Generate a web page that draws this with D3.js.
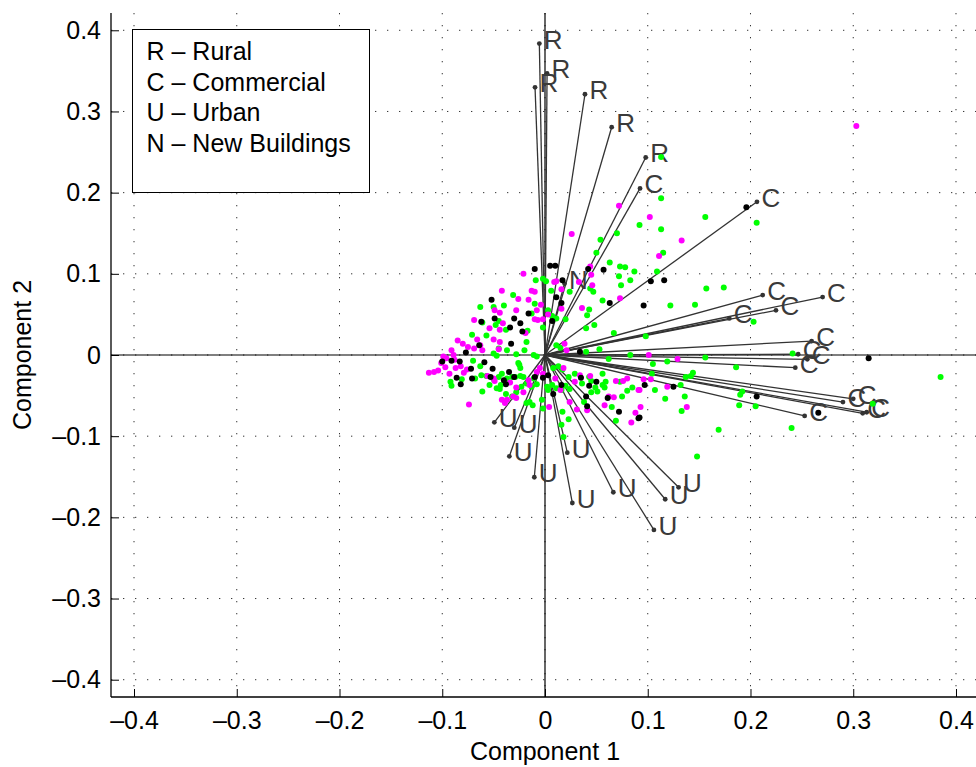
<!DOCTYPE html>
<html><head><meta charset="utf-8">
<script src="https://cdn.jsdelivr.net/npm/d3@7"></script>
<style>
html,body{margin:0;padding:0;background:#fff;}
svg{display:block;font-family:"Liberation Sans",Arial,Helvetica,sans-serif;}
</style></head>
<body>
<svg id="chart" width="976" height="767"></svg>
<script>
// ---------- data ----------
const xTicks = [-0.4,-0.3,-0.2,-0.1,0,0.1,0.2,0.3,0.4];
const yTicks = [-0.4,-0.3,-0.2,-0.1,0,0.1,0.2,0.3,0.4];
const tickLabels = ["\u20130.4","\u20130.3","\u20130.2","\u20130.1","0","0.1","0.2","0.3","0.4"];
const legendLines = ["R \u2013 Rural","C \u2013 Commercial","U \u2013 Urban","N \u2013 New Buildings"];

const vecLabels = ["R","R","R","R","R","R",
  "C","C","C","C","C","C","C","C","C","C","C","C","C","C","C",
  "N",
  "U","U","U","U","U","U","U","U","U","U"];
const vecX = [-0.0055,0.002,-0.0097,0.0389,0.0649,0.098,
  0.0925,0.2063,0.2119,0.2702,0.2248,0.1794,0.2595,0.2464,0.2553,0.2436,0.290,0.300,0.3092,0.3131,0.2527,
  0.019,
  -0.0493,-0.0299,-0.0347,-0.0104,0.0217,0.0266,0.0665,0.117,0.106,0.130];
const vecY = [0.3836,0.347,0.3298,0.3212,0.2806,0.2433,
  0.2052,0.1887,0.0738,0.0714,0.055,0.0451,0.0172,0.0009,-0.0053,-0.0156,-0.058,-0.054,-0.0718,-0.0705,-0.0751,
  0.088,
  -0.0829,-0.0895,-0.1248,-0.1506,-0.1203,-0.1823,-0.1691,-0.1777,-0.2155,-0.163];

const greenPts = [
 [0.113,0.244],[0.113,0.193],[0.156,0.170],[0.206,0.163],[0.092,0.160],[0.113,0.155],[0.115,0.126],[0.109,0.103],
 [0.157,0.082],[0.174,0.083],[0.122,0.061],[0.146,0.062],[0.203,0.041],[0.098,0.023],[0.241,0.002],[0.105,-0.011],
 [0.119,-0.008],[0.156,-0.003],[0.186,-0.015],[0.104,-0.023],[0.137,-0.027],[0.142,-0.026],[0.144,-0.022],[0.132,-0.037],
 [0.107,-0.043],[0.136,-0.051],[0.117,-0.054],[0.192,-0.045],[0.190,-0.049],[0.189,-0.062],[0.205,-0.063],[0.133,-0.069],
 [0.169,-0.092],[0.240,-0.090],[0.319,-0.060],[0.385,-0.027],
 [0.070,0.150],[0.054,0.142],[0.050,0.126],[0.063,0.114],[0.073,0.109],[0.078,0.108],[0.087,0.103],[0.072,0.097],
 [0.083,0.092],[0.074,0.086],[0.044,0.082],[0.047,0.078],[0.056,0.067],[0.043,0.056],[0.041,0.049],[0.040,0.033],
 [0.048,0.037],[0.067,0.027],[0.053,0.007],[0.040,0.004],[0.083,0.000],[0.024,0.078],
 [0.062,-0.005],[0.029,-0.023],[0.056,-0.023],[0.043,-0.027],[0.045,-0.032],[0.036,-0.035],[0.059,-0.033],[0.049,-0.040],
 [0.051,-0.045],[0.045,-0.046],[0.058,-0.040],[0.056,-0.037],[0.073,-0.033],[0.085,-0.040],[0.080,-0.044],[0.075,-0.051],
 [0.038,-0.058],[0.065,-0.064],[0.069,-0.081],[0.148,-0.125],
 [-0.009,0.092],[-0.002,0.094],[0.001,0.091],[-0.031,0.074],[-0.040,0.061],[-0.050,0.059],[-0.063,0.059],[-0.010,0.063],
 [-0.013,0.051],[-0.061,0.040],[-0.045,0.042],[-0.038,0.031],[-0.048,0.037],[-0.017,0.030],[-0.002,0.034],[-0.071,0.025],
 [-0.057,0.024],[-0.018,0.016],[-0.020,0.006],[-0.028,0.001],[-0.026,-0.010],[-0.024,-0.016],[-0.045,0.008],[-0.050,0.002],
 [-0.037,0.006],[-0.011,0.000],[-0.008,-0.002],[-0.070,-0.007],[-0.063,-0.014],[-0.091,-0.038],[-0.092,-0.033],[-0.081,-0.030],
 [-0.068,-0.029],[-0.062,-0.025],[-0.057,-0.026],[-0.050,-0.030],[-0.045,-0.027],[-0.042,-0.023],[-0.037,-0.029],[-0.032,-0.027],
 [-0.029,-0.027],[-0.024,-0.026],[-0.021,-0.027],[-0.061,-0.045],[-0.054,-0.037],[-0.047,-0.041],[-0.043,-0.037],[-0.038,-0.048],
 [-0.044,-0.042],[-0.028,-0.046],[-0.023,-0.039],[-0.018,-0.035],[-0.013,-0.039],[-0.008,-0.036],[-0.011,-0.029],[-0.018,-0.059],
 [-0.015,-0.058],[-0.012,-0.062],[-0.003,-0.055],[-0.002,-0.066],[0.002,-0.039],[0.003,-0.043],[0.007,-0.037],[0.011,-0.041],
 [0.016,-0.043],[0.020,-0.038],[0.024,-0.042],[0.008,-0.016],[0.013,-0.014],[0.017,-0.018],[0.023,-0.027],[0.017,-0.070],
 [0.023,-0.079],[0.016,-0.086],[0.018,-0.101],[0.006,0.079],[0.020,0.044],[0.007,0.048],[0.011,0.045],[0.011,0.012],
 [0.015,0.009],[0.003,0.055],[-0.032,-0.051],[-0.047,-0.001],[-0.025,-0.012]
];
const magentaPts = [
 [0.303,0.282],[0.102,0.170],[0.133,0.141],[0.111,0.122],[0.101,0.000],[0.129,-0.005],[0.096,-0.030],[0.103,-0.030],
 [0.119,-0.039],[0.092,-0.043],[0.138,-0.064],[0.093,-0.064],[0.072,0.184],[0.026,0.149],[0.044,0.109],[0.045,0.099],
 [0.046,0.086],[0.033,0.090],[0.073,0.070],[0.036,0.058],[0.034,-0.025],[0.044,-0.026],[0.029,-0.033],[0.069,-0.032],
 [0.076,-0.032],[0.080,-0.029],[0.091,-0.043],[0.062,-0.051],[0.067,-0.052],[0.058,-0.062],[0.031,-0.067],[0.041,-0.068],
 [0.088,-0.071],[0.084,-0.083],
 [-0.021,0.100],[-0.042,0.079],[-0.013,0.079],[-0.010,0.078],[-0.026,0.069],[-0.016,0.068],[-0.049,0.055],[-0.044,0.052],
 [-0.028,0.055],[-0.008,0.055],[-0.069,0.043],[-0.054,0.033],[-0.044,0.031],[-0.041,0.039],[-0.010,0.044],[-0.007,0.043],
 [-0.002,0.044],[-0.019,0.027],[-0.085,0.018],[-0.080,0.014],[-0.075,0.010],[-0.066,0.019],[-0.063,0.012],[-0.069,0.008],
 [-0.061,0.006],[-0.050,0.019],[-0.045,0.007],[-0.044,0.016],[-0.091,0.006],[-0.089,0.000],[-0.099,-0.002],[-0.096,-0.004],
 [-0.088,-0.006],[-0.101,-0.010],[-0.097,-0.015],[-0.087,-0.016],[-0.082,-0.014],[-0.113,-0.022],[-0.108,-0.021],[-0.104,-0.019],
 [-0.093,-0.023],[-0.079,-0.022],[-0.076,-0.018],[-0.074,-0.061],[-0.056,-0.026],[-0.050,-0.029],[-0.049,-0.032],[-0.034,-0.034],
 [-0.028,-0.040],[-0.031,-0.051],[-0.028,-0.053],[-0.021,-0.046],[-0.016,-0.031],[-0.015,-0.037],[-0.042,-0.055],[-0.039,-0.059],
 [-0.037,-0.055],[-0.008,-0.021],[-0.005,-0.016],[-0.002,-0.023],[0.004,-0.064],[0.010,-0.029],[0.015,-0.043],[0.018,-0.016],
 [0.024,-0.058],[0.011,0.091],[0.016,0.081],[-0.004,0.062],[0.009,0.090],[0.016,0.057],[0.019,0.014],[0.021,0.006],
 [0.003,0.050]
];
const blackPts = [
 [0.196,0.182],[0.103,0.091],[0.116,0.092],[0.096,0.061],[0.315,-0.004],[0.097,-0.037],[0.125,-0.039],[0.206,-0.051],
 [0.266,-0.071],[0.092,-0.077],[0.042,0.106],[0.057,0.105],[0.063,0.064],[0.034,0.004],[0.035,-0.028],[0.043,-0.038],
 [0.050,-0.033],[0.040,-0.051],[0.041,-0.063],[0.061,-0.053],[0.072,-0.070],[0.091,-0.078],[-0.010,0.106],[0.005,0.110],
 [0.010,0.110],[0.017,0.092],[-0.052,0.068],[-0.049,0.045],[-0.062,0.041],[-0.064,0.012],[-0.077,0.003],[-0.030,0.045],
 [-0.034,0.034],[-0.024,0.039],[-0.016,0.051],[-0.022,0.029],[-0.033,0.014],[-0.059,-0.009],[-0.083,-0.008],[-0.091,-0.007],
 [-0.100,-0.008],[-0.086,-0.028],[-0.082,-0.036],[-0.071,-0.029],[-0.072,-0.017],[-0.051,-0.017],[-0.053,-0.027],[-0.035,-0.021],
 [-0.040,-0.031],[-0.038,-0.036],[-0.030,-0.027],[-0.010,-0.027],[-0.002,-0.028],[0.008,-0.048],[0.003,-0.025],[0.016,-0.037],
 [0.011,0.071],[0.016,0.064],[0.007,0.042]
];

// ---------- drawing ----------
const svg = d3.select("#chart");
const L = 111, R = 979, T = 13, B = 697;
const lim = 0.4224, limY = 0.4213;
const x = d3.scaleLinear().domain([-lim, lim]).range([L, R]);
const y = d3.scaleLinear().domain([-limY, limY]).range([B, T]);

// grid
const g = svg.append("g");
g.selectAll(".vg").data(xTicks).enter().append("line")
  .attr("x1", d => x(d)).attr("x2", d => x(d)).attr("y1", T).attr("y2", B)
  .attr("stroke", "#333").attr("stroke-width", 1).attr("stroke-dasharray", "1.3,10.7");
g.selectAll(".hg").data(yTicks).enter().append("line")
  .attr("y1", d => y(d)).attr("y2", d => y(d)).attr("x1", L).attr("x2", R)
  .attr("stroke", "#333").attr("stroke-width", 1).attr("stroke-dasharray", "1.3,10.7");

// axes (left and bottom) with inward ticks
const xAxis = d3.axisBottom(x).tickValues(xTicks).tickSize(-8).tickPadding(14)
  .tickFormat((d, i) => tickLabels[i]);
const yAxis = d3.axisLeft(y).tickValues(yTicks).tickSize(-8).tickPadding(10)
  .tickFormat((d, i) => tickLabels[i]);
const gx = svg.append("g").attr("transform", `translate(0,${B})`).call(xAxis);
const gy = svg.append("g").attr("transform", `translate(${L},0)`).call(yAxis);
[gx, gy].forEach(a => {
  a.select(".domain").remove();
  a.selectAll("line").attr("stroke", "#000").attr("stroke-width", 1);
  a.selectAll("text").attr("fill", "#000").style("font-size", "25px")
   .style("font-family", '"Liberation Sans",Arial,sans-serif');
});
gx.selectAll("text").attr("dy", "0.71em");
svg.append("line").attr("x1", L).attr("x2", R).attr("y1", B).attr("y2", B).attr("stroke", "#000").attr("stroke-width", 1.3);
svg.append("line").attr("x1", L).attr("x2", L).attr("y1", T).attr("y2", B).attr("stroke", "#000").attr("stroke-width", 1.3);

// origin lines
svg.append("line").attr("x1", L).attr("x2", R).attr("y1", y(0)).attr("y2", y(0)).attr("stroke", "#000").attr("stroke-width", 1.2);
svg.append("line").attr("x1", x(0)).attr("x2", x(0)).attr("y1", T).attr("y2", B).attr("stroke", "#000").attr("stroke-width", 1.2);

// vectors
const vecs = vecLabels.map((l, i) => ({l, vx: vecX[i], vy: vecY[i]}));
svg.append("g").selectAll("line").data(vecs).enter().append("line")
  .attr("x1", x(0)).attr("y1", y(0)).attr("x2", d => x(d.vx)).attr("y2", d => y(d.vy))
  .attr("stroke", "#333").attr("stroke-width", 1.3);
svg.append("g").selectAll("circle").data(vecs).enter().append("circle")
  .attr("cx", d => x(d.vx)).attr("cy", d => y(d.vy)).attr("r", 2.4).attr("fill", "#333");
svg.append("g").selectAll("text").data(vecs).enter().append("text")
  .attr("x", d => x(d.vx) + 4.5).attr("y", d => y(d.vy) + 5)
  .attr("fill", "#3a3a3a").style("font-size", "26px").text(d => d.l);

// points
function pts(data, color) {
  svg.append("g").selectAll("circle").data(data).enter().append("circle")
    .attr("cx", d => x(d[0])).attr("cy", d => y(d[1])).attr("r", 3).attr("fill", color);
}
pts(greenPts, "#00ff00");
pts(magentaPts, "#ff00ff");
pts(blackPts, "#000000");

// axis labels
svg.append("text").attr("x", x(0)).attr("y", 760).attr("text-anchor", "middle")
  .style("font-size", "25px").attr("fill", "#000").text("Component 1");
svg.append("text").attr("transform", `translate(31,${y(0)}) rotate(-90)`).attr("text-anchor", "middle")
  .style("font-size", "25px").attr("fill", "#000").text("Component 2");

// legend
const lg = svg.append("g");
lg.append("rect").attr("x", 132.5).attr("y", 29.5).attr("width", 237).attr("height", 163)
  .attr("fill", "#fff").attr("stroke", "#000").attr("stroke-width", 1);
lg.selectAll("text").data(legendLines).enter().append("text")
  .attr("x", 146.5).attr("y", (d, i) => 60 + i * 30.5)
  .style("font-size", "25px").attr("fill", "#000").text(d => d);
</script>
</body></html>
